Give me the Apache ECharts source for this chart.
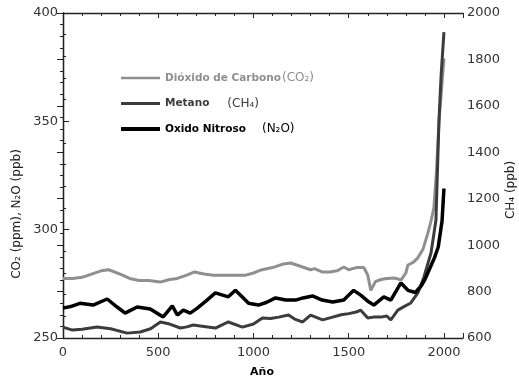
<!DOCTYPE html>
<html><head><meta charset="utf-8">
<script src="https://cdn.jsdelivr.net/npm/echarts@6/dist/echarts.min.js"></script>
<style>html,body{margin:0;padding:0;background:#fff}#c{width:519px;height:381px}</style>
</head><body><div id="c"></div>
<script>
// CO2 (ppm) – left axis
const co2Years  = [0,50,100,150,200,240,300,350,400,450,510,560,600,650,690,740,790,850,900,960,1000,1040,1100,1150,1195,1250,1300,1320,1360,1400,1440,1474,1500,1540,1580,1600,1616,1640,1670,1700,1740,1775,1800,1811,1840,1863,1890,1916,1932,1947,1960,1974,1990,2000];
const co2Values = [277.5,277.5,278,279.5,281,281.5,279.5,277.5,276.5,276.5,275.8,277,277.5,279,280.5,279.5,279,279,279,279,280,281.4,282.5,284,284.6,283,281.5,282,280.5,280.5,281,282.8,281.5,282.5,282.5,279,272,276,277,277.5,277.7,276.8,280,283.7,285,287,291,298.5,304,310,326,350,368,379];
// CH4 (ppb) – right axis
const ch4Years  = [0,50,100,179,250,337,405,460,511,560,616,650,684,740,800,868,942,1000,1047,1090,1132,1184,1220,1258,1300,1363,1416,1460,1500,1540,1563,1600,1630,1668,1700,1721,1758,1790,1826,1863,1895,1932,1958,1974,1985,2000];
const ch4Values = [647,634,638,647,640,621,626,640,669,660,643,648,656,650,643,669,647,660,686,684,690,699,680,669,699,678,690,700,705,712,720,686,690,690,695,678,720,735,751,794,863,966,1108,1539,1730,1918];
// N2O (ppb) – left axis
const n2oYears  = [0,40,89,158,232,284,326,389,458,526,574,600,632,668,705,750,800,868,905,940,974,1026,1070,1116,1170,1221,1260,1310,1360,1416,1474,1526,1563,1600,1632,1684,1721,1774,1811,1850,1880,1900,1930,1950,1970,1990,2000];
const n2oValues = [263.8,264.5,266,265.2,268,264.3,261.5,264.3,263.4,259.7,264.8,260.6,262.9,261.5,263.8,267,270.8,269,272,269,266,265.2,266.5,268.5,267.5,267.5,268.5,269.4,267.5,266.6,267.5,272,269.8,267,265.2,269,267.5,275.4,272,271,274,277,283,287,292,304,319];

const seriesNames = ['Dióxido de Carbono','Metano','Oxido Nitroso'];
const formulas = ['(CO₂)','(CH₄)','(N₂O)'];
const xTicks = [0,500,1000,1500,2000];

const pairs = (xs, ys) => xs.map((x, i) => [x, ys[i]]);
const chart = echarts.init(document.getElementById('c'), null, {renderer:'canvas'});
const axisCol = '#222';
const lblStyle = {color:'#333', fontFamily:'DejaVu Sans', fontSize:13};
const colors = ['#8f8f8f','#3c3c3c','#000000'];
const formulaPad = [1, 18, 16];
const legendIcons = ['path://M0,0H39V2.5H0Z','path://M0,0H39V3H0Z','path://M0,0H39V4H0Z'];

chart.setOption({
  animation:false,
  grid:{left:63, right:56, top:13, bottom:43},
  xAxis:[{
    type:'value', min:0, max:2100, interval:500, position:'bottom',
    axisLine:{lineStyle:{color:axisCol, width:1.3}},
    axisTick:{inside:true, length:5, lineStyle:{color:axisCol}},
    minorTick:{show:true, splitNumber:5, length:3, lineStyle:{color:axisCol}},
    splitLine:{show:false},
    axisLabel:Object.assign({margin:8, formatter:v => xTicks.includes(v) ? String(v) : ''}, lblStyle)
  },{
    type:'value', min:0, max:2100, interval:500, position:'top',
    axisLine:{lineStyle:{color:axisCol, width:1.3}},
    axisTick:{inside:true, length:5, lineStyle:{color:axisCol}},
    minorTick:{show:true, splitNumber:5, length:3, lineStyle:{color:axisCol}},
    splitLine:{show:false}, axisLabel:{show:false}
  }],
  yAxis:[{
    type:'value', min:250, max:400, interval:50, position:'left',
    axisLine:{show:true, lineStyle:{color:axisCol, width:1.3}},
    axisTick:{show:true, inside:true, length:6, lineStyle:{color:axisCol}},
    minorTick:{show:true, splitNumber:5, length:3, lineStyle:{color:axisCol}},
    splitLine:{show:false},
    axisLabel:Object.assign({margin:5, formatter:v => String(v)}, lblStyle)
  },{
    type:'value', min:600, max:2000, interval:200, position:'right',
    axisLine:{show:true, lineStyle:{color:axisCol, width:1.3}},
    axisTick:{show:true, inside:true, length:6, lineStyle:{color:axisCol}},
    minorTick:{show:true, splitNumber:4, length:3, lineStyle:{color:axisCol}},
    splitLine:{show:false},
    axisLabel:Object.assign({margin:4, formatter:v => String(v)}, lblStyle)
  }],
  legend:{
    orient:'vertical', left:116, top:67, itemWidth:39, itemHeight:14, itemGap:13.5,
    symbolKeepAspect:true,
    data: seriesNames.map((n, i) => ({
      name:n,
      icon:legendIcons[i],
      textStyle:{
        rich:{
          n:{fontFamily:'DejaVu Sans', fontWeight:'bold', fontSize:10.5, color:colors[i]},
          f:{fontFamily:'DejaVu Sans', fontSize:12, color:colors[i], padding:[0,0,0,formulaPad[i]]}
        }
      }
    })),
    formatter: name => { const i = seriesNames.indexOf(name); return '{n|' + name + '}{f|' + formulas[i] + '}'; }
  },
  series:[
    {name:seriesNames[0], type:'line', xAxisIndex:0, yAxisIndex:0, data:pairs(co2Years, co2Values), showSymbol:false, symbol:'none',
     lineStyle:{color:colors[0], width:3}, itemStyle:{color:colors[0]}},
    {name:seriesNames[1], type:'line', xAxisIndex:0, yAxisIndex:1, data:pairs(ch4Years, ch4Values), showSymbol:false, symbol:'none',
     lineStyle:{color:colors[1], width:3}, itemStyle:{color:colors[1]}},
    {name:seriesNames[2], type:'line', xAxisIndex:0, yAxisIndex:0, data:pairs(n2oYears, n2oValues), showSymbol:false, symbol:'none',
     lineStyle:{color:colors[2], width:3.5}, itemStyle:{color:colors[2]}}
  ],
  graphic:[
    {type:'text', x:17, y:214, rotation:Math.PI/2,
     style:{text:'CO₂ (ppm), N₂O (ppb)', fontFamily:'DejaVu Sans', fontSize:12, fill:'#222', align:'center', verticalAlign:'middle'}},
    {type:'text', x:511, y:190, rotation:Math.PI/2,
     style:{text:'CH₄ (ppb)', fontFamily:'DejaVu Sans', fontSize:12, fill:'#222', align:'center', verticalAlign:'middle'}},
    {type:'text', x:262, y:372,
     style:{text:'Año', fontFamily:'DejaVu Sans', fontWeight:'bold', fontSize:11, fill:'#000', align:'center', verticalAlign:'middle'}}
  ]
});
</script></body></html>
